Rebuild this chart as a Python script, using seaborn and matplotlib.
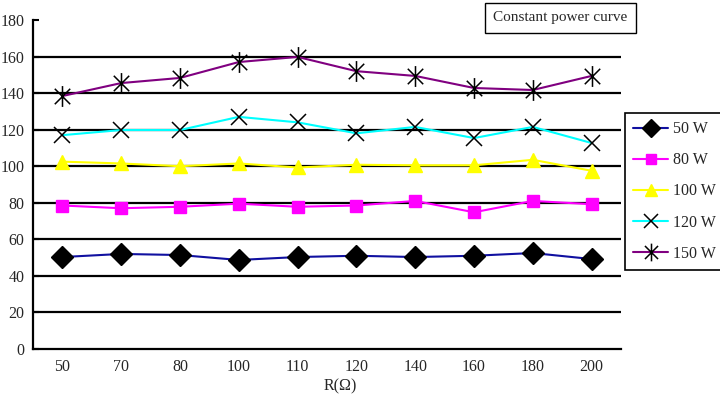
import matplotlib
matplotlib.use("Agg")
import matplotlib.pyplot as plt
from matplotlib.lines import Line2D
from matplotlib.path import Path
import pandas as pd
import seaborn as sns

resistance = ["50", "70", "80", "100", "110", "120", "140", "160", "180", "200"]
p50 = [50.3, 52.0, 51.4, 48.7, 50.3, 51.0, 50.3, 51.0, 52.5, 49.2]
p80 = [78.5, 77.0, 77.8, 79.5, 77.8, 78.5, 81.0, 74.8, 81.0, 79.2]
p100 = [102.5, 101.5, 100.0, 101.5, 99.3, 100.8, 100.5, 100.5, 103.5, 97.5]
p120 = [117.0, 119.8, 119.8, 127.0, 124.0, 118.0, 121.5, 115.4, 121.5, 112.7]
p150 = [138.4, 145.5, 148.3, 157.0, 159.8, 152.0, 149.4, 142.8, 141.7, 149.4]
series_names = ["50 W", "80 W", "100 W", "120 W", "150 W"]
y_ticks = [0, 20, 40, 60, 80, 100, 120, 140, 160, 180]

# Excel-style star: an X with a vertical stroke through it
star = Path(
    [(-1, -1), (1, 1), (-1, 1), (1, -1), (0, -1.35), (0, 1.35)],
    [Path.MOVETO, Path.LINETO, Path.MOVETO, Path.LINETO, Path.MOVETO, Path.LINETO],
)

styles = {
    "50 W": dict(color="#1010a0", marker="D", ms=11, mfc="black", mec="black", mew=1),
    "80 W": dict(color="#ff00ff", marker="s", ms=9, mfc="#ff00ff", mec="#ff00ff", mew=1),
    "100 W": dict(color="#ffff00", marker="^", ms=10, mfc="#ffff00", mec="#ffff00", mew=1),
    "120 W": dict(color="#00ffff", marker="x", ms=12, mfc="black", mec="black", mew=1.1),
    "150 W": dict(color="#800080", marker=star, ms=15, mfc="black", mec="black", mew=1.1),
}

rows = []
for name, vals in zip(series_names, [p50, p80, p100, p120, p150]):
    for i, (r, v) in enumerate(zip(resistance, vals)):
        rows.append({"pos": i, "R": r, "power": name, "value": v})
df = pd.DataFrame(rows)

sns.set_style("white")
plt.rcParams["font.family"] = ["Liberation Serif", "DejaVu Serif"]

fig = plt.figure(figsize=(7.2, 3.97), dpi=100)
ax = fig.add_axes([0.0458, 0.121, 0.8167, 0.8286])

handles = []
for name in series_names:
    st = styles[name]
    sub = df[df["power"] == name]
    sns.lineplot(
        data=sub, x="pos", y="value", color=st["color"], linewidth=1.5,
        marker=st["marker"], markersize=st["ms"], markerfacecolor=st["mfc"],
        markeredgecolor=st["mec"], markeredgewidth=st["mew"], ax=ax, zorder=3,
    )
    handles.append(Line2D([], [], color=st["color"], linewidth=1.5, marker=st["marker"],
                          markersize=st["ms"] * 0.85, markerfacecolor=st["mfc"],
                          markeredgecolor=st["mec"], markeredgewidth=st["mew"]))

ax.set_xlim(-0.5, len(resistance) - 0.5)
ax.set_ylim(0, 180)
ax.set_yticks(y_ticks)
ax.set_yticklabels([str(t) for t in y_ticks], fontsize=11.5)
ax.set_xticks(range(len(resistance)))
ax.set_xticklabels(resistance, fontsize=11.5)
ax.set_xticks([i - 0.5 for i in range(len(resistance) + 1)], minor=True)
ax.tick_params(axis="x", which="major", length=0, pad=7)
ax.tick_params(axis="x", which="minor", direction="in", length=5, width=1.5, color="black")
ax.tick_params(axis="y", direction="in", length=4, width=1.5, color="black", pad=6, left=True)

ax.yaxis.grid(True, color="black", linewidth=1.6)
ax.xaxis.grid(False)
ax.get_ygridlines()[-1].set_visible(False)
ax.get_ygridlines()[0].set_visible(False)

for side in ["top", "right"]:
    ax.spines[side].set_visible(False)
for side in ["left", "bottom"]:
    ax.spines[side].set_color("black")
    ax.spines[side].set_linewidth(1.6)

ax.set_ylabel("")
ax.set_xlabel("R(Ω)", fontsize=11.5)
ax.xaxis.set_label_coords(0.522, -0.088)

leg = fig.legend(handles, series_names, loc="upper left", bbox_to_anchor=(0.868, 0.715),
                 fontsize=11.5, frameon=True, fancybox=False, handlelength=2.2,
                 labelspacing=0.95, borderpad=0.5, handletextpad=0.3, borderaxespad=0)
leg.get_frame().set_edgecolor("black")
leg.get_frame().set_linewidth(1.2)
leg.get_frame().set_alpha(1)

fig.text(0.778, 0.955, "Constant power curve", fontsize=11, ha="center", va="center",
         bbox=dict(boxstyle="square,pad=0.55", facecolor="white", edgecolor="black", linewidth=1))

fig.savefig("out.png", dpi=100)
